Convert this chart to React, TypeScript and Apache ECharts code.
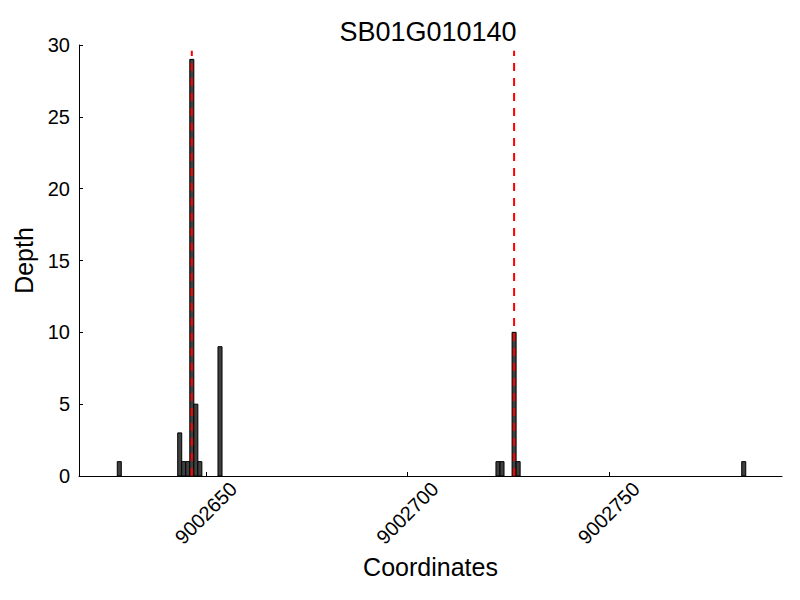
import React, { useEffect, useRef } from "react";
import * as echarts from "echarts";

const title = "SB01G010140";
const positions = [9002628, 9002643, 9002644, 9002645, 9002646, 9002647, 9002648, 9002653, 9002722, 9002723, 9002726, 9002727, 9002783];
const depths = [1, 3, 1, 1, 29, 5, 1, 9, 1, 1, 10, 1, 1];
const redLines = [9002646.5, 9002726.5];
const redLineTop = 29.6;
const xTicks = [9002650, 9002700, 9002750];
const xMin = 9002618.5;
const xMax = 9002793;

const FONT = "Liberation Sans";

export default function App() {
  const ref = useRef<HTMLDivElement>(null);
  useEffect(() => {
    if (!ref.current) return;
    const chart = echarts.init(ref.current, null, { renderer: "svg" });
    const barData = positions.map((p, i) => [p, depths[i]]);
    const lineSeries = redLines.map((x) => ({
      type: "line",
      data: [[x, 0], [x, redLineTop]],
      symbol: "none",
      z: 5,
      lineStyle: { color: "#ff0000", width: 2, type: [8, 7] },
    }));
    chart.setOption({
      animation: false,
      title: {
        text: title,
        left: 423,
        textAlign: "center",
        top: 13,
        textStyle: { fontFamily: FONT, fontSize: 27, fontWeight: "normal", color: "#000" },
      },
      grid: { left: 79, top: 45, width: 703, height: 431, containLabel: false },
      xAxis: {
        type: "value",
        min: xMin,
        max: xMax,
        name: "Coordinates",
        nameLocation: "middle",
        nameGap: 78,
        nameTextStyle: { fontFamily: FONT, fontSize: 25, color: "#000" },
        axisLine: { show: true, onZero: false, lineStyle: { color: "#000", width: 1 } },
        axisTick: { show: true, inside: true, length: 4, customValues: xTicks, lineStyle: { color: "#000" } },
        splitLine: { show: false },
        axisLabel: {
          customValues: xTicks,
          rotate: 45,
          align: "center",
          verticalAlign: "middle",
          margin: 37,
          fontFamily: FONT,
          fontSize: 20,
          color: "#000",
          formatter: (v: number) => String(v),
        },
      },
      yAxis: {
        type: "value",
        min: 0,
        max: 30,
        interval: 5,
        name: "Depth",
        nameLocation: "middle",
        nameGap: 42,
        nameTextStyle: { fontFamily: FONT, fontSize: 25, color: "#000" },
        axisLine: { show: true, lineStyle: { color: "#000", width: 1 } },
        axisTick: { show: true, inside: true, length: 4, lineStyle: { color: "#000" } },
        splitLine: { show: false },
        axisLabel: { margin: 9, fontFamily: FONT, fontSize: 20, color: "#000" },
      },
      series: [
        {
          type: "custom",
          data: barData,
          encode: { x: 0, y: 1 },
          z: 2,
          renderItem: (params: any, api: any) => {
            const x = api.value(0);
            const v = api.value(1);
            const p0 = api.coord([x, v]);
            const p1 = api.coord([x + 1, 0]);
            return {
              type: "rect",
              shape: { x: p0[0], y: p0[1], width: p1[0] - p0[0], height: p1[1] - p0[1] },
              style: { fill: "#404040", stroke: "#000", lineWidth: 1 },
            };
          },
        },
        ...lineSeries,
      ],
    });
    return () => chart.dispose();
  }, []);
  return <div ref={ref} style={{ position: "absolute", left: 0, top: 0, width: 800, height: 600 }} />;
}
